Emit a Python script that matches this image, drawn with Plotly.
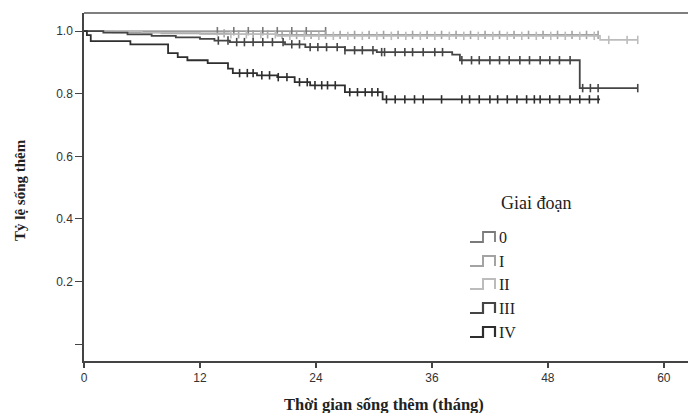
import plotly.graph_objects as go
import numpy as np

# ---- data ----
stages = ["0", "I", "II", "III", "IV"]

s0_t = [0, 25.0]
s0_s = [1.0, 1.0]
s0_c = [13.8, 15.5, 17.0, 18.5, 20.0, 21.5, 23.0, 25.0]

s1_t = [0, 3.0, 8.0, 15.0, 20.0, 53.2]
s1_s = [1.0, 0.996, 0.993, 0.990, 0.988, 0.988]
s1_c = [14.5, 16.0, 17.5, 19.0, 20.5, 22.0, 23.5, 25.0, 26.5, 28.0, 29.5, 31.0, 32.5,
        34.0, 35.5, 37.0, 38.5, 40.0, 41.5, 43.0, 44.5, 46.0, 47.5, 49.0, 50.5, 52.0, 53.2]

s2_t = [0, 6.0, 12.0, 20.0, 53.4, 57.3]
s2_s = [1.0, 0.995, 0.99, 0.985, 0.972, 0.972]
s2_c = [15.2, 16.8, 18.3, 19.8, 21.3, 22.8, 24.3, 25.8, 27.3, 28.8, 30.3, 31.8, 33.3,
        34.8, 36.3, 37.8, 39.3, 40.8, 42.3, 43.8, 45.3, 46.8, 48.3, 49.8, 51.3, 52.8,
        54.3, 56.2, 57.3]

s3_t = [0, 2.0, 4.5, 7.0, 9.5, 12.0, 13.5, 15.1, 20.8, 22.9, 27.0, 30.3, 38.1, 38.9, 51.3, 57.3]
s3_s = [1.0, 0.995, 0.99, 0.985, 0.98, 0.975, 0.97, 0.965, 0.958, 0.949, 0.939, 0.933,
        0.925, 0.907, 0.818, 0.818]
s3_c = [13.9, 14.9, 15.8, 16.6, 17.5, 18.5, 19.5, 20.6, 21.5, 22.3, 23.4, 24.2, 25.1, 26.2,
        27.0, 28.0, 28.8, 29.9, 30.8, 31.1, 32.2, 33.2, 34.0, 35.1, 36.3, 37.1, 39.1, 40.1,
        40.9, 42.0, 43.0, 44.0, 45.1, 46.1, 47.2, 48.2, 49.2, 50.3, 51.6, 52.4, 53.2, 57.3]

s4_t = [0, 0.3, 0.7, 4.8, 8.7, 9.7, 10.7, 12.8, 14.9, 15.4, 17.9, 20.0, 21.8, 23.4, 27.0, 30.9, 53.4]
s4_s = [1.0, 0.987, 0.968, 0.958, 0.93, 0.917, 0.907, 0.898, 0.88, 0.866, 0.859, 0.853,
        0.837, 0.827, 0.805, 0.782, 0.782]
s4_c = [16.1, 16.9, 17.5, 18.4, 19.2, 20.1, 21.0, 22.3, 23.1, 23.9, 24.6, 25.2, 26.0, 27.5,
        28.3, 29.1, 29.8, 30.4, 31.3, 32.2, 33.2, 34.2, 35.1, 37.0, 39.1, 39.9, 40.9, 42.0,
        42.8, 43.8, 44.8, 45.8, 46.6, 47.2, 48.2, 49.2, 50.3, 51.3, 52.3, 53.2]

colors = ["#7a7a7a", "#a3a3a3", "#bcbcbc", "#454545", "#2e2e2e"]
widths = [1.4, 1.6, 1.6, 1.8, 1.8]

x_ticks = [0, 12, 24, 36, 48, 60]
y_ticks = [0, 0.2, 0.4, 0.6, 0.8, 1.0]
y_tick_text = ["", "0.2", "0.4", "0.6", "0.8", "1.0"]

series = [(s0_t, s0_s, s0_c), (s1_t, s1_s, s1_c), (s2_t, s2_s, s2_c),
          (s3_t, s3_s, s3_c), (s4_t, s4_s, s4_c)]

W, H = 688, 413
L, R, T, B = 84, 0, 13, 52

fig = go.Figure()

def step_val(ts, ss, c):
    idx = np.searchsorted(ts, c, side="right") - 1
    return ss[max(idx, 0)]

for name, (t, s, c), col, w in zip(stages, series, colors, widths):
    fig.add_trace(go.Scatter(x=t, y=s, mode="lines", line=dict(shape="hv", color=col, width=w),
                             name=name, showlegend=False, hoverinfo="skip"))
    cy = [step_val(t, s, ci) for ci in c]
    fig.add_trace(go.Scatter(x=c, y=cy, mode="markers",
                             marker=dict(symbol="line-ns-open", size=6, color=col,
                                         line=dict(color=col, width=1.6)),
                             showlegend=False, hoverinfo="skip"))

def px(xp):
    return (xp - L) / (W - L - R)

def py(yp):
    return (H - B - yp) / (H - T - B)

shapes = []
# top frame line
shapes.append(dict(type="line", xref="paper", yref="paper", x0=0, x1=1, y0=1, y1=1,
                   line=dict(color="#555", width=1.5)))

# manual legend
leg_rows = [237, 261, 284, 308, 332]
for name, yr, col, w in zip(stages, leg_rows, colors, widths):
    pts = [(470, yr + 5), (483, yr + 5), (483, yr - 5), (495, yr - 5), (495, yr + 5)]
    path = "M " + " L ".join(f"{px(a):.5f},{py(b):.5f}" for a, b in pts)
    shapes.append(dict(type="path", xref="paper", yref="paper", path=path,
                       line=dict(color=col, width=w + 0.4)))

annotations = [
    dict(text="Giai đoạn", xref="paper", yref="paper", x=px(536), y=py(203),
         showarrow=False, font=dict(family="Liberation Serif", size=18, color="#222"),
         xanchor="center", yanchor="middle"),
    dict(text="<b>Thời gian sống thêm (tháng)</b>", xref="paper", yref="paper",
         x=px(384), y=py(404), showarrow=False,
         font=dict(family="Liberation Serif", size=16.5, color="#222"),
         xanchor="center", yanchor="middle"),
    dict(text="<b>Tỷ lệ sống thêm</b>", xref="paper", yref="paper",
         x=px(20), y=py(190), showarrow=False, textangle=-90,
         font=dict(family="Liberation Serif", size=15, color="#222"),
         xanchor="center", yanchor="middle"),
]
for name, yr in zip(stages, leg_rows):
    annotations.append(dict(text=name, xref="paper", yref="paper", x=px(497), y=py(yr),
                            showarrow=False, xanchor="left", yanchor="middle",
                            font=dict(family="Liberation Serif", size=16, color="#222")))

fig.update_layout(
    width=W, height=H,
    margin=dict(l=L, r=R, t=T, b=B),
    paper_bgcolor="white", plot_bgcolor="white",
    shapes=shapes, annotations=annotations,
    xaxis=dict(range=[0, 62.5], tickvals=x_ticks, ticktext=[str(v) for v in x_ticks],
               showgrid=False, zeroline=False, showline=True, linecolor="#444", linewidth=1.5,
               ticks="outside", ticklen=5, tickcolor="#444", tickwidth=1.5,
               tickfont=dict(family="Liberation Sans", size=12, color="#333")),
    yaxis=dict(range=[-0.054, 1.058], tickvals=y_ticks, ticktext=y_tick_text,
               showgrid=False, zeroline=False, showline=True, linecolor="#444", linewidth=1.5,
               ticks="outside", ticklen=7, tickcolor="#444", tickwidth=1.2,
               tickfont=dict(family="Liberation Sans", size=12, color="#333")),
)

fig.write_html("out.html")
